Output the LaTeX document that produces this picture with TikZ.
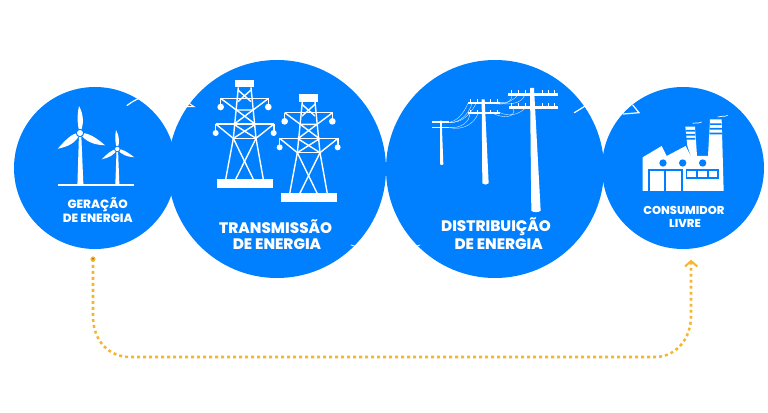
\documentclass[tikz,border=0pt]{standalone}
\usepackage{fontspec}
\setmainfont{Poppins}[BoldFont={Poppins ExtraBold}]
\definecolor{bluedisc}{HTML}{0080FF}
\definecolor{linegold}{HTML}{F4B62E}
\definecolor{dotcore}{HTML}{A86A10}
\tikzset{
  disc/.style={circle,fill=bluedisc,inner sep=0pt,minimum size=#1},
  caption/.style={text=white,font=\bfseries\fontsize{#1}{#1}\selectfont,inner sep=0pt,anchor=center},
  ink/.style={draw=white,line width=1.05pt,line cap=butt},
  wire/.style={draw=white,line width=0.3pt,opacity=.85},
  tick/.style={draw=white,line width=0.9pt,line cap=round},
  route/.style={draw=linegold,line width=1.9pt,dash pattern=on 2.2pt off 2.3pt},
  pylon/.pic={
    \fill[white] (196,60) rectangle (252,82);
    \fill[white] (140,357) rectangle (308,383);
    \draw[ink] (205,82) -- (190,235) -- (167,358);
    \draw[ink] (243,82) -- (258,235) -- (280,358);
    \draw[ink] (152,115) -- (296,115);
    \draw[ink] (137,192) -- (312,192);
    \draw[ink] (190,235) -- (258,235);
    \draw[ink] (204,90) -- (243,125) (243,90) -- (204,125);
    \draw[ink] (152,115) -- (199,150) -- (249,150) -- (296,115);
    \draw[ink] (199,150) -- (255,192) (249,150) -- (193,192);
    \draw[ink] (137,192) -- (190,235) -- (258,192);
    \draw[ink] (312,192) -- (258,235) -- (190,192);
    \draw[ink] (190,235) -- (250,358);
    \draw[ink] (258,235) -- (197,358);
    \draw[ink] (152,115) -- (152,141) (296,115) -- (296,141);
    \draw[ink] (137,192) -- (137,219) (312,192) -- (312,219);
    \fill[white] (152,141) circle (10) (295,141) circle (10) (137,219) circle (9) (311,219) circle (9);
  }
}
\begin{document}
\begin{tikzpicture}[x=0.75pt,y=-0.75pt]
\useasboundingbox (0,0) rectangle (768,413);
% discs
\node[disc=162*0.75pt] (gen) at (95,168) {};
\node[disc=162*0.75pt] (con) at (683,168) {};
\node[disc=218*0.75pt] (tra) at (277,169) {};
\node[disc=218*0.75pt] (dis) at (495,169) {};
% stray ticks
\draw[tick] (127,105.5) -- (132,102) -- (137.5,99);
\draw[tick,line width=0.8pt] (186.7,101.7) -- (194,106.7) -- (183.3,106.7);
\draw[tick] (574.3,112.7) .. controls (578,110.5) and (582,108) .. (585,106);
\draw[tick,line width=0.9pt] (632.7,105) -- (639,112.7) -- (623.3,114);
\draw[tick,line width=0.6pt] (351,245) -- (356,246.5);
\draw[tick,line width=0.6pt] (415,246.5) -- (420,245);
% turbines
\fill[white] (77.4,185) -- (83.4,185) -- (81.2,133) -- (79,133) -- cycle;
\fill[white] (57.7,184) rectangle (134.3,186.3);
\fill[white] (115.3,185) -- (119.4,185) -- (118,149) -- (116.6,149) -- cycle;
\fill[white] (80,133) .. controls (84,125) and (84,115) .. (79,106) .. controls (77,115) and (77,125) .. (80,133) -- cycle;
\fill[white] (80,133) .. controls (88,132) and (98,139) .. (105,145.3) .. controls (95,145) and (85,142) .. (80,133) -- cycle;
\fill[white] (80,133) .. controls (72,132) and (64,142) .. (57.7,148.7) .. controls (67,147) and (77,143) .. (80,133) -- cycle;
\fill[bluedisc] (80,133) circle (4.2);
\fill[white] (80,133) circle (3.0);
\fill[white] (117.3,149) .. controls (120,143) and (119.5,136) .. (116,130) .. controls (114.8,136) and (114.8,143) .. (117.3,149) -- cycle;
\fill[white] (117.3,149) .. controls (122,148.5) and (129,153) .. (134.3,157.3) .. controls (128,157) and (121,155) .. (117.3,149) -- cycle;
\fill[white] (117.3,149) .. controls (112,149) and (106,155) .. (101.7,159.3) .. controls (108,158) and (115,155) .. (117.3,149) -- cycle;
\fill[bluedisc] (117.3,149) circle (3.2);
\fill[white] (117.3,149) circle (2.2);
% pylons
\begin{scope}[shift={(170,60)},x=0.25pt,y=-0.25pt]
  \pic at (0,0) {pylon};
  \pic at (192,43) {pylon};
\end{scope}
% poles
\begin{scope}[shift={(385,60)},x=0.25pt,y=-0.25pt]
  \fill[white] (435,84) -- (447,84) -- (467,452) .. controls (462,458) and (444,458) .. (439,452) -- cycle;
  \fill[white] (370,99) rectangle (518,107);
  \fill[white] (373,139) rectangle (518,147);
  \fill[white] (290,118) -- (299,118) -- (311,370) .. controls (306,375) and (296,375) .. (292,370) -- cycle;
  \fill[white] (248,125) rectangle (345,131);
  \fill[white] (248,155) rectangle (345,161);
  \fill[white] (165,182) -- (170,182) -- (175,313) .. controls (173,316) and (168,316) .. (165,313) -- cycle;
  \fill[white] (141,184.5) rectangle (193,188.5);
  \fill[white] (141,201) rectangle (193,205);
  \foreach \a in {378,400,420,470,490,508} {\fill[white] (\a,90) rectangle ++(3,10); \fill[white] (\a,130) rectangle ++(3,10);}
  \foreach \a in {255,275,315,335} {\fill[white] (\a,118) rectangle ++(2,8); \fill[white] (\a,149) rectangle ++(2,7);}
  \draw[wire] (193,187) .. controls (225,180) and (240,150) .. (250,128);
  \draw[wire] (193,187) .. controls (230,190) and (255,165) .. (275,128);
  \draw[wire] (193,203) .. controls (230,205) and (255,185) .. (255,158);
  \draw[wire] (193,203) .. controls (235,212) and (270,190) .. (280,158);
  \draw[wire] (178,187) .. controls (215,195) and (250,170) .. (262,128);
  \draw[wire] (345,128) .. controls (370,130) and (390,118) .. (400,103);
  \draw[wire] (320,128) .. controls (355,140) and (385,125) .. (380,103);
  \draw[wire] (345,158) .. controls (370,170) and (400,165) .. (420,145);
  \draw[wire] (320,158) .. controls (355,178) and (395,172) .. (385,145);
  \draw[wire] (335,128) .. controls (365,135) and (410,135) .. (420,103);
\end{scope}
% factory
\begin{scope}[shift={(570,70)},x=0.25pt,y=-0.25pt]
  \fill[white] (218,363) -- (218,262) -- (275,228) -- (290,258) -- (347,228) -- (362,258) -- (414,258) -- (420,148) -- (455,148) -- (461,363) -- cycle;
  \fill[white] (346,170) -- (375,170) -- (381,258) -- (362,258) -- (352,228) -- cycle;
  \fill[bluedisc] (279,279) circle (11) (338,279) circle (11) (398,279) circle (11);
  \fill[bluedisc] (235,297) rectangle (338,363);
  \fill[white] (241,304) rectangle (283,363);
  \fill[white] (289,304) rectangle (332,363);
  \fill[bluedisc] (347,297) rectangle (446,326);
  \fill[white] (352,303) rectangle (378,320);
  \fill[white] (384,303) rectangle (410,320);
  \fill[white] (416,303) rectangle (441,320);
  \fill[bluedisc] (347,180) rectangle (376,185) (347,192) rectangle (376,197) (348,204) rectangle (376,209);
  \fill[bluedisc] (420,160) rectangle (455,165) (419,174) rectangle (456,179) (418,188) rectangle (456,193);
  \draw[white,line width=0.5pt] (368,160) .. controls (375,155) and (382,163) .. (395,156);
  \draw[white,line width=0.5pt] (443,141) .. controls (452,135) and (460,143) .. (473,136);
\end{scope}
% captions
\node[caption=9] (t1a) at (97.7,205) {GERAÇÃO};
\node[caption=9] (t1b) at (97.7,218) {DE ENERGIA};
\node[caption=11.4] (t2a) at (275.7,227) {TRANSMISSÃO};
\node[caption=11.4] (t2b) at (277,244) {DE ENERGIA};
\node[caption=11.4] (t3a) at (496,227) {DISTRIBUIÇÃO};
\node[caption=11.4] (t3b) at (498.7,244) {DE ENERGIA};
\node[caption=8.6] (t4a) at (684,210) {CONSUMIDOR};
\node[caption=8.6] (t4b) at (685,223) {LIVRE};
% connector
\coordinate (start) at (93,259);
\coordinate (finish) at (691,261);
\coordinate (low) at (390,357);
\draw[route] (start) -- (93,316) .. controls (93,342) and (110,357) .. (130,357) -- (low) -- (655,357) .. controls (675,357) and (691,340) .. (691,316) -- (finish);
\fill[linegold] (start) circle (2.6);
\fill[dotcore] (start) circle (1);
\draw[linegold,line width=1.5pt] (685,266.5) -- (finish) -- (697.3,266.5);
\end{tikzpicture}
\end{document}
